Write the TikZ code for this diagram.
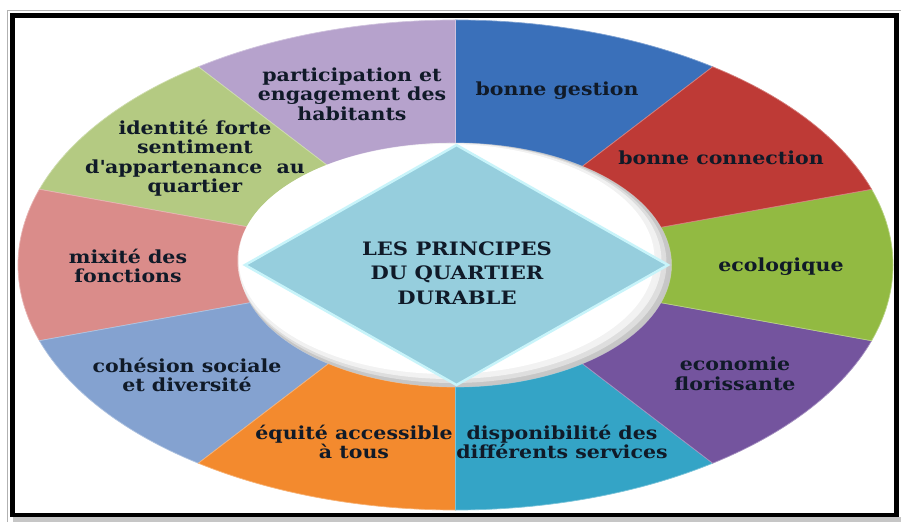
\documentclass[tikz,border=0pt]{standalone}
\usepackage{fontspec}
\setmainfont{DejaVu Serif}[FakeStretch=1.14]
\usetikzlibrary{shapes.geometric}

\definecolor{cGestion}{RGB}{58,112,186}
\definecolor{cConnect}{RGB}{190,58,54}
\definecolor{cEcolo}{RGB}{146,186,66}
\definecolor{cEconomie}{RGB}{116,84,158}
\definecolor{cDispo}{RGB}{52,164,198}
\definecolor{cEquite}{RGB}{243,138,46}
\definecolor{cCohesion}{RGB}{132,162,208}
\definecolor{cMixite}{RGB}{218,140,138}
\definecolor{cIdentite}{RGB}{180,202,130}
\definecolor{cParticip}{RGB}{182,162,204}
\definecolor{diam}{RGB}{150,206,221}
\definecolor{diamedge}{RGB}{200,244,250}
\definecolor{txt}{RGB}{16,26,40}

\tikzset{
  seg/.style={fill=#1, draw=#1!65!white, line width=0.7pt},
  lbl/.style={font=\fontsize{18}{19.5}\selectfont\bfseries, text=txt, align=center, inner sep=0pt}
}

\begin{document}
\begin{tikzpicture}[x=1pt,y=1pt]
	\useasboundingbox (0,0) rectangle (901,522);
	% cadre
	\draw[gray!60,line width=1pt] (7,0) -- (7,511) -- (901,511);
	\fill[gray!45] (13,0) rectangle (901,5);
	\draw[line width=4.5pt] (12.5,7) rectangle (896.5,506.5);

	\coordinate (O) at (455.5,257);

	% anneau
	\filldraw[seg=cGestion] ([shift={(O)}]54:437.5pt and 245pt) arc[start angle=54,end angle=90,x radius=437.5pt,y radius=245pt] -- ([shift={(O)}]90:216pt and 122pt) arc[start angle=90,end angle=54,x radius=216pt,y radius=122pt] -- cycle;
	\filldraw[seg=cParticip] ([shift={(O)}]90:437.5pt and 245pt) arc[start angle=90,end angle=126,x radius=437.5pt,y radius=245pt] -- ([shift={(O)}]126:216pt and 122pt) arc[start angle=126,end angle=90,x radius=216pt,y radius=122pt] -- cycle;
	\filldraw[seg=cIdentite] ([shift={(O)}]126:437.5pt and 245pt) arc[start angle=126,end angle=162,x radius=437.5pt,y radius=245pt] -- ([shift={(O)}]162:216pt and 122pt) arc[start angle=162,end angle=126,x radius=216pt,y radius=122pt] -- cycle;
	\filldraw[seg=cMixite] ([shift={(O)}]162:437.5pt and 245pt) arc[start angle=162,end angle=198,x radius=437.5pt,y radius=245pt] -- ([shift={(O)}]198:216pt and 122pt) arc[start angle=198,end angle=162,x radius=216pt,y radius=122pt] -- cycle;
	\filldraw[seg=cCohesion] ([shift={(O)}]198:437.5pt and 245pt) arc[start angle=198,end angle=234,x radius=437.5pt,y radius=245pt] -- ([shift={(O)}]234:216pt and 122pt) arc[start angle=234,end angle=198,x radius=216pt,y radius=122pt] -- cycle;
	\filldraw[seg=cEquite] ([shift={(O)}]234:437.5pt and 245pt) arc[start angle=234,end angle=270,x radius=437.5pt,y radius=245pt] -- ([shift={(O)}]270:216pt and 122pt) arc[start angle=270,end angle=234,x radius=216pt,y radius=122pt] -- cycle;
	\filldraw[seg=cDispo] ([shift={(O)}]270:437.5pt and 245pt) arc[start angle=270,end angle=306,x radius=437.5pt,y radius=245pt] -- ([shift={(O)}]306:216pt and 122pt) arc[start angle=306,end angle=270,x radius=216pt,y radius=122pt] -- cycle;
	\filldraw[seg=cEconomie] ([shift={(O)}]306:437.5pt and 245pt) arc[start angle=306,end angle=342,x radius=437.5pt,y radius=245pt] -- ([shift={(O)}]342:216pt and 122pt) arc[start angle=342,end angle=306,x radius=216pt,y radius=122pt] -- cycle;
	\filldraw[seg=cEcolo] ([shift={(O)}]-18:437.5pt and 245pt) arc[start angle=-18,end angle=18,x radius=437.5pt,y radius=245pt] -- ([shift={(O)}]18:216pt and 122pt) arc[start angle=18,end angle=-18,x radius=216pt,y radius=122pt] -- cycle;
	\filldraw[seg=cConnect] ([shift={(O)}]18:437.5pt and 245pt) arc[start angle=18,end angle=54,x radius=437.5pt,y radius=245pt] -- ([shift={(O)}]54:216pt and 122pt) arc[start angle=54,end angle=18,x radius=216pt,y radius=122pt] -- cycle;

	% trou central, ombre douce en bas a droite
	\shade[inner color=white,outer color=gray!45] (O) ellipse (216pt and 122pt);
	\fill[white,opacity=0.4] ([shift={(-3,2)}]O) ellipse (214pt and 120pt);
	\fill[white,opacity=0.6] ([shift={(-6,4)}]O) ellipse (212pt and 118pt);
	\fill[white] ([shift={(-9,6)}]O) ellipse (208pt and 115pt);

	\node (losange) [diamond,fill=diam,draw=diamedge,line width=2.5pt,minimum width=424pt,minimum height=241pt,inner sep=0pt] at (456.5,257) {};
	\node (titre) [lbl,font=\fontsize{18.5}{24.5}\selectfont\bfseries] at (457,249) {LES PRINCIPES\\DU QUARTIER\\DURABLE};

	\node (gestion) [lbl] at (557,431) {bonne gestion};
	\node (connect) [lbl] at (721,364) {bonne connection};
	\node (ecolo) [lbl] at (781,255) {ecologique};
	\node (economie) [lbl] at (735,148) {economie\\florissante};
	\node (dispo) [lbl] at (562,80) {disponibilité des\\différents services};
	\node (equite) [lbl] at (354,80) {équité accessible\\à tous};
	\node (cohesion) [lbl] at (187,147) {cohésion sociale\\et diversité};
	\node (mixite) [lbl] at (128,256) {mixité des\\fonctions};
	\node (identite) [lbl] at (195,364) {identité forte\\sentiment\\d\textquotesingle appartenance\ \ au\\quartier};
	\node (particip) [lbl] at (352,428) {participation et\\engagement des\\habitants};
\end{tikzpicture}
\end{document}
